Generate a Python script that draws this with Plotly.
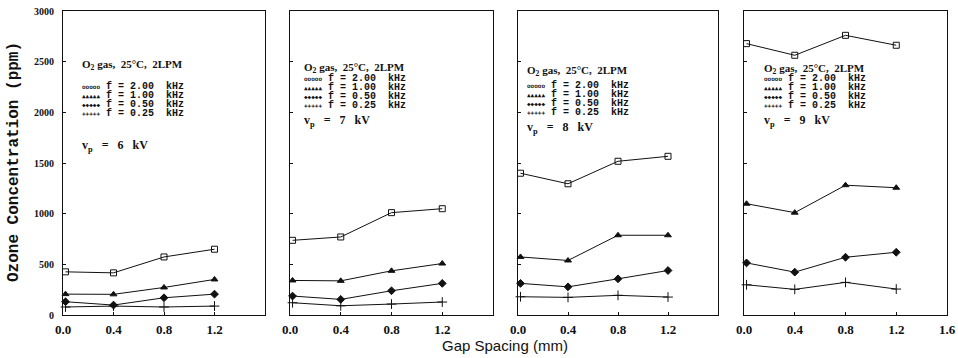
import plotly.graph_objects as go

gap = [0.02, 0.4, 0.8, 1.2]
voltages = ["6", "7", "8", "9"]
freq_labels = ["f = 2.00  kHz", "f = 1.00  kHz", "f = 0.50  kHz", "f = 0.25  kHz"]

# ozone (ppm) per panel (6,7,8,9 kV), per frequency
o3_6kV = {
    "2.00": [426, 416, 573, 649],
    "1.00": [206, 204, 272, 351],
    "0.50": [131, 98, 170, 206],
    "0.25": [79, 88, 79, 88],
}
o3_7kV = {
    "2.00": [737, 770, 1010, 1049],
    "1.00": [341, 337, 436, 508],
    "0.50": [187, 154, 239, 312],
    "0.25": [121, 91, 108, 128],
}
o3_8kV = {
    "2.00": [1399, 1295, 1517, 1566],
    "1.00": [573, 538, 787, 787],
    "0.50": [312, 278, 357, 439],
    "0.25": [180, 174, 194, 177],
}
o3_9kV = {
    "2.00": [2678, 2563, 2760, 2662],
    "1.00": [1098, 1010, 1281, 1256],
    "0.50": [514, 423, 570, 619],
    "0.25": [298, 253, 322, 256],
}
panels = [o3_6kV, o3_7kV, o3_8kV, o3_9kV]
freqs = ["2.00", "1.00", "0.50", "0.25"]

y_ticks = [0, 500, 1000, 1500, 2000, 2500, 3000]
x_ticks_inner = [0.0, 0.4, 0.8, 1.2]
x_ticks_last = [0.0, 0.4, 0.8, 1.2, 1.6]

symbols = {"2.00": "square-open", "1.00": "triangle-up", "0.50": "diamond", "0.25": "cross-thin-open"}
sample_glyph = {"2.00": "ooooo", "1.00": "▲▲▲▲▲", "0.50": "◆◆◆◆◆", "0.25": "+++++"}

W, H = 958, 358
ml, mr, mt, mb = 63, 11, 11, 43
pw = W - ml - mr
ph = H - mt - mb
px_dom = [(63, 265), (290, 493), (518, 718), (744, 947)]
domains = [((a - ml) / pw, (b - ml) / pw) for a, b in px_dom]

fig = go.Figure()
ink = "#111111"
for i, data in enumerate(panels):
    xa = "x" if i == 0 else f"x{i+1}"
    ya = "y" if i == 0 else f"y{i+1}"
    for f in freqs:
        sym = symbols[f]
        fig.add_trace(go.Scatter(
            x=gap, y=data[f], mode="lines+markers", xaxis=xa, yaxis=ya,
            line=dict(color=ink, width=1),
            marker=dict(symbol=sym, size=6 if f != "0.25" else 7, color=ink,
                        line=dict(color=ink, width=1)),
            showlegend=False, cliponaxis=False,
        ))

tick_font_y = dict(family="Liberation Serif", size=10, color=ink, weight="bold")
tick_font_x = dict(family="Liberation Serif", size=13, color=ink, weight="bold")
for i in range(4):
    sfx = "" if i == 0 else str(i + 1)
    xt = x_ticks_last if i == 3 else x_ticks_inner
    fig.layout["xaxis" + sfx] = dict(
        domain=list(domains[i]), range=[0, 1.6], anchor="y" + sfx,
        tickvals=xt, ticktext=[f"{v:.1f}" for v in xt],
        ticks="inside", ticklen=3, tickcolor=ink, showline=True, linecolor=ink,
        linewidth=1, mirror=True, showgrid=False, zeroline=False,
        tickfont=tick_font_x, automargin=False, ticklabelstandoff=2,
    )
    fig.layout["yaxis" + sfx] = dict(
        domain=[0, 1], range=[0, 3000], anchor="x" + sfx,
        tickvals=y_ticks, ticktext=[str(v) for v in y_ticks],
        showticklabels=(i == 0),
        ticks="inside", ticklen=3, tickcolor=ink, showline=True, linecolor=ink,
        linewidth=1, mirror=True, showgrid=False, zeroline=False,
        tickfont=tick_font_y, ticklabelstandoff=6, automargin=False,
    )

# legend-like text blocks (pixel positions inside each panel)
text_left = [80, 302, 525, 762]
title_y = [65, 68, 71, 69]
rows_mid = [100, 92, 99, 92]
vp_y = [146, 121, 128, 121]
ann_font = dict(family="Liberation Serif", size=11, color=ink, weight="bold")
vp_font = dict(family="Liberation Serif", size=12, color=ink, weight="bold")
block_font = dict(family="Liberation Mono", size=7, color=ink, weight="bold")
annotations = []


def yfrac(py):
    return 1 - (py - mt) / ph


def xfrac(px):
    return (px - ml) / pw


rows = []
for k, f in enumerate(freqs):
    rows.append("<span style='font-size:6px;font-family:DejaVu Sans Mono'>" + sample_glyph[f] + "</span>"
                "<span style='font-size:10px'> " + freq_labels[k] + "</span>")
block_text = "<br>".join(rows)

for i in range(4):
    sfx = "" if i == 0 else str(i + 1)
    a, b = px_dom[i]
    xf = (text_left[i] - a) / (b - a)
    xr = "x" + sfx + " domain"
    yr = "y" + sfx + " domain"
    annotations.append(dict(text="O<sub>2</sub> gas,  25°C,  2LPM", x=xf, y=yfrac(title_y[i]),
                            xref=xr, yref=yr, xanchor="left", yanchor="middle",
                            showarrow=False, font=ann_font))
    annotations.append(dict(text=block_text, x=xf, y=yfrac(rows_mid[i]),
                            xref=xr, yref=yr, xanchor="left", yanchor="middle", align="left",
                            showarrow=False, font=block_font))
    annotations.append(dict(text=f"v<sub>p</sub>   =   {voltages[i]}   kV", x=xf, y=yfrac(vp_y[i]),
                            xref=xr, yref=yr, xanchor="left", yanchor="middle",
                            showarrow=False, font=vp_font))

annotations.append(dict(text="Ozone Concentration (ppm)", x=xfrac(14), y=yfrac(162),
                        xref="paper", yref="paper", textangle=-90, showarrow=False,
                        xanchor="center", yanchor="middle",
                        font=dict(family="Liberation Mono", size=16, color=ink, weight="bold")))
annotations.append(dict(text="Gap Spacing (mm)", x=xfrac(505), y=yfrac(345),
                        xref="paper", yref="paper", showarrow=False,
                        xanchor="center", yanchor="middle",
                        font=dict(family="Liberation Sans", size=15, color=ink)))

fig.update_layout(
    width=W, height=H, margin=dict(l=ml, r=mr, t=mt, b=mb, autoexpand=False),
    paper_bgcolor="white", plot_bgcolor="white",
    annotations=annotations, showlegend=False,
)

fig.write_html("out.html", config={"displayModeBar": False},
               post_script="document.body.style.margin='0';document.body.style.overflow='hidden';")
